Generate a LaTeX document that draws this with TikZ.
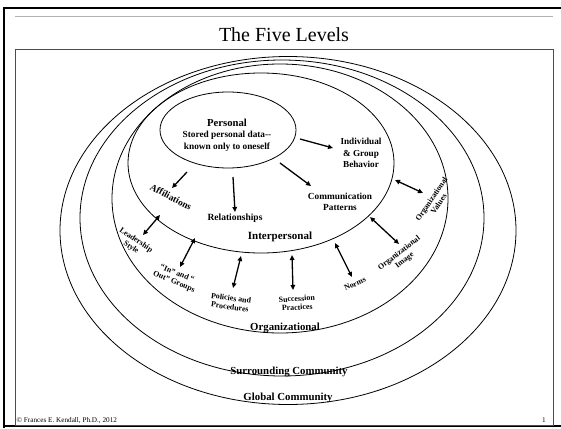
\documentclass[tikz,border=0pt]{standalone}
\usepackage{fontspec}
\setmainfont{Liberation Serif}
\usetikzlibrary{arrows.meta,shapes.geometric}
\begin{document}
\begin{tikzpicture}[x=1pt,y=-1pt,
  ring/.style={draw=black,line width=0.8pt,ellipse,inner sep=0pt,outer sep=0pt},
  arr/.style={line width=1.3pt,-{Triangle[length=5pt,width=4.5pt]}},
  darr/.style={line width=1.3pt,{Triangle[length=5pt,width=4.5pt]}-{Triangle[length=5pt,width=4.5pt]}},
  lbl/.style={font=\bfseries\fontsize{9.3}{11}\selectfont,align=center,inner sep=0pt},
  small/.style={font=\bfseries\fontsize{7.9}{8.8}\selectfont,align=center,inner sep=0pt},
  level/.style={font=\bfseries\fontsize{10.8}{12}\selectfont,inner sep=0pt}]
\useasboundingbox (0,0) rectangle (561,428);
\fill[white] (0,0) rectangle (561,428);

% slide frame
\draw[line width=2.3pt] (3.7,428) -- (3.7,7.9) -- (561,7.9);
\draw[line width=2pt] (3.7,426.3) -- (561,426.3);
\draw[gray!60,line width=0.8pt] (15,16) -- (553,16);
\draw[black!70,line width=0.8pt] (15,49) rectangle (553,425);

\node[font=\fontsize{20}{22}\selectfont,inner sep=0pt] (title) at (284,35) {The Five Levels};

% nested levels
\node[ring,minimum width=456pt,minimum height=348pt] (global) at (288,230.5) {};
\node[ring,minimum width=404pt,minimum height=316pt] (surround) at (282,218) {};
\node[ring,minimum width=336pt,minimum height=269pt] (org) at (280,198.5) {};
\node[ring,minimum width=266pt,minimum height=180pt] (inter) at (261,163) {};
\node[ring,minimum width=136pt,minimum height=76pt] (personal) at (228,130) {};

% personal core
\node[lbl,font=\bfseries\fontsize{9.3}{11.5}\selectfont] (ptext) at (227,135)
  {{\fontsize{10.7}{11.5}\selectfont Personal}\\Stored personal data{-}{-}\\known only to oneself};

% interpersonal items
\node[lbl,font=\bfseries\fontsize{9.2}{11.5}\selectfont] (indiv) at (361,153) {Individual\\\& Group\\Behavior};
\node[lbl,font=\bfseries\fontsize{9.5}{11}\selectfont,rotate=-28] (affil) at (171,197) {Affiliations};
\node[lbl,font=\bfseries\fontsize{9.5}{11}\selectfont] (rel) at (235,218) {Relationships};
\node[lbl,font=\bfseries\fontsize{9.3}{10.7}\selectfont] (comm) at (340,201.5) {Communication\\Patterns};
\node[level,font=\bfseries\fontsize{11}{12}\selectfont] (interlbl) at (280,237) {Interpersonal};

% organizational items
\node[small,rotate=-34] (lead) at (133.5,244) {Leadership\\Style};
\node[small,rotate=-22] (inout) at (175.5,278) {“In” and “\\Out” Groups};
\node[small,rotate=-8] (policy) at (230.5,302.5) {Policies and\\Procedures};
\node[small,rotate=3] (succ) at (297,303) {Succession\\Practices};
\node[small,rotate=24] (norms) at (355,284) {Norms};
\node[small,rotate=38] (image) at (402,257) {Organizational\\Image};
\node[small,rotate=56] (values) at (435,201.5) {Organizational\\Values};

% level names
\node[level] (orglbl) at (285,327.5) {Organizational};
\node[level] (surlbl) at (289,371.5) {Surrounding Community};
\node[level] (glolbl) at (288,397.5) {Global Community};

% footer
\node[font=\fontsize{7.2}{8}\selectfont,anchor=base west,inner sep=0pt] (copy) at (16.5,422) {© Frances E. Kendall, Ph.D., 2012};
\node[font=\fontsize{7.2}{8}\selectfont,anchor=base,inner sep=0pt] (pageno) at (544,422) {1};

% arrow end points
\coordinate (i1) at (300,139);   \coordinate (i2) at (333,148);
\coordinate (a1) at (187,172);   \coordinate (a2) at (172,188);
\coordinate (r1) at (233,177);   \coordinate (r2) at (235,212);
\coordinate (c1) at (280,163);   \coordinate (c2) at (311,186);
\coordinate (l1) at (160,215);   \coordinate (l2) at (143,235);
\coordinate (g1) at (195,238);   \coordinate (g2) at (180,267);
\coordinate (p1) at (241,256);   \coordinate (p2) at (233,288);
\coordinate (s1) at (292,255);   \coordinate (s2) at (293,290);
\coordinate (n1) at (335,243);   \coordinate (n2) at (352,277);
\coordinate (m1) at (370,217);   \coordinate (m2) at (399,244);
\coordinate (v1) at (395,180);   \coordinate (v2) at (423,193);

\draw[arr] (i1) -- (i2);
\draw[arr] (a1) -- (a2);
\draw[arr] (r1) -- (r2);
\draw[arr] (c1) -- (c2);
\draw[darr] (l1) -- (l2);
\draw[darr] (g1) -- (g2);
\draw[darr] (p1) -- (p2);
\draw[darr] (s1) -- (s2);
\draw[darr] (n1) -- (n2);
\draw[darr] (m1) -- (m2);
\draw[darr] (v1) -- (v2);
\end{tikzpicture}
\end{document}
